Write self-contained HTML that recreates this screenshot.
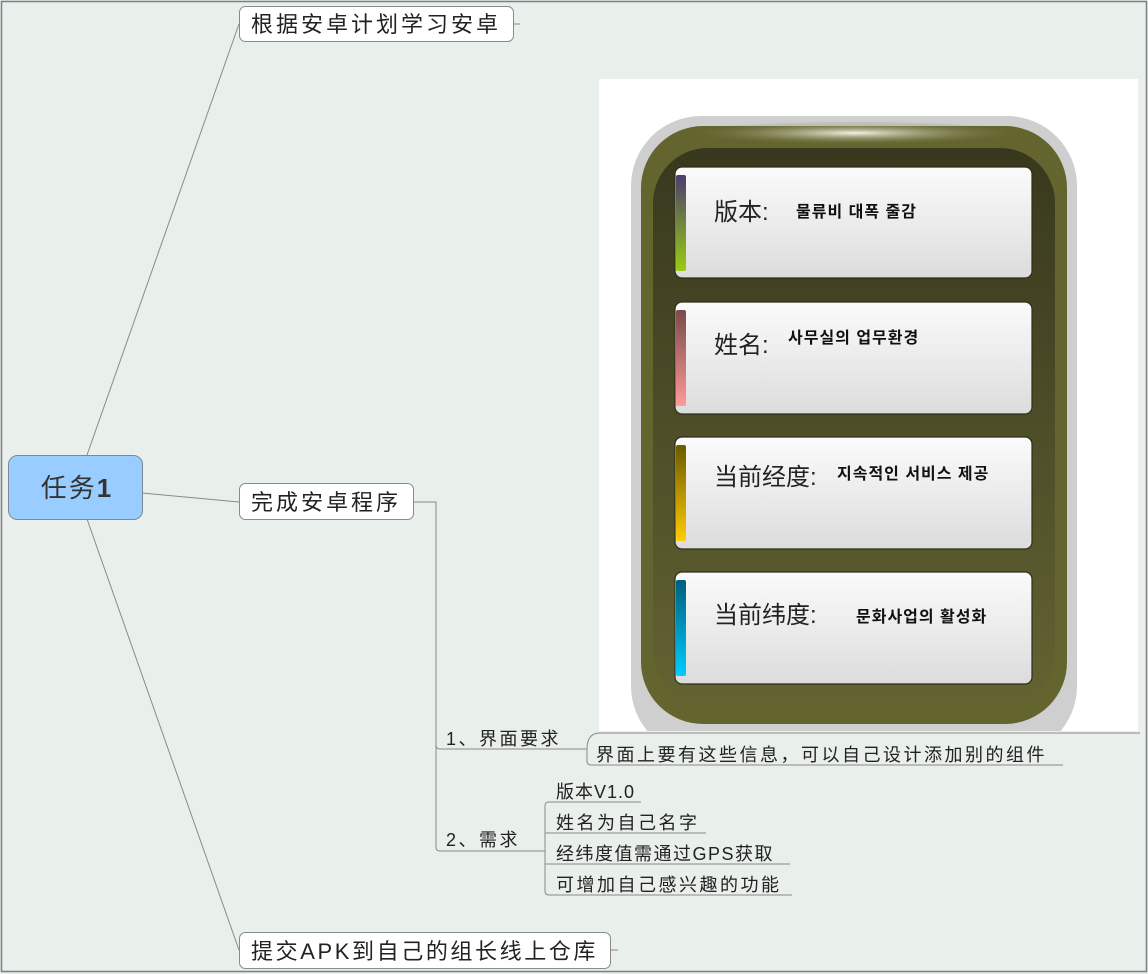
<!DOCTYPE html>
<html><head><meta charset="utf-8"><style>
html,body{margin:0;padding:0;background:#e9efeb;}
svg{display:block;}
text{font-family:"Liberation Sans","Noto Sans CJK SC",sans-serif;}
.k{font-family:"Liberation Sans","Noto Sans CJK KR",sans-serif;font-weight:bold;}
</style></head><body>
<svg width="1148" height="974" viewBox="0 0 1148 974" xmlns="http://www.w3.org/2000/svg">
<defs>
<linearGradient id="card" x1="0" y1="0" x2="0" y2="1"><stop offset="0" stop-color="#fbfbfb"/><stop offset="1" stop-color="#dcdcdc"/></linearGradient>
<linearGradient id="b1" x1="0" y1="0" x2="0" y2="1"><stop offset="0" stop-color="#4a3d6e"/><stop offset="1" stop-color="#99cc11"/></linearGradient>
<linearGradient id="b2" x1="0" y1="0" x2="0" y2="1"><stop offset="0" stop-color="#7a4a4a"/><stop offset="1" stop-color="#ff9999"/></linearGradient>
<linearGradient id="b3" x1="0" y1="0" x2="0" y2="1"><stop offset="0" stop-color="#6b5a00"/><stop offset="1" stop-color="#ffcc00"/></linearGradient>
<linearGradient id="b4" x1="0" y1="0" x2="0" y2="1"><stop offset="0" stop-color="#005e7a"/><stop offset="1" stop-color="#00ccff"/></linearGradient>
<linearGradient id="ol" x1="0" y1="0" x2="0" y2="1"><stop offset="0" stop-color="#38381e"/><stop offset="1" stop-color="#636332"/></linearGradient>
<radialGradient id="gl" cx="0.5" cy="0.5" r="0.5"><stop offset="0" stop-color="#f4f4e8"/><stop offset="1" stop-color="#6b6b35" stop-opacity="0"/></radialGradient>
</defs>
<rect x="1.5" y="1.5" width="1145" height="970" fill="#e9efeb" stroke="#7f7f7f" stroke-width="1.5"/>
<!-- image -->
<rect x="599" y="79" width="539" height="652" fill="#fff"/>
<rect x="631" y="116" width="446" height="640" rx="70" fill="#cfcfcf"/>
<rect x="641" y="126" width="426" height="598" rx="62" fill="#64642f"/>
<rect x="653" y="148" width="402" height="560" rx="55" fill="url(#ol)"/>
<rect x="599" y="731" width="545" height="35" fill="#e9efeb"/>
<ellipse cx="855" cy="133" rx="170" ry="12" fill="url(#gl)"/>
<g stroke="#2e2e1a" stroke-width="1.2">
<rect x="675" y="167" width="357" height="111" rx="7" fill="url(#card)"/>
<rect x="675" y="302" width="357" height="112" rx="7" fill="url(#card)"/>
<rect x="675" y="437" width="357" height="112" rx="7" fill="url(#card)"/>
<rect x="675" y="572" width="357" height="112" rx="7" fill="url(#card)"/>
</g>
<rect x="676" y="175" width="10" height="96" rx="2" fill="url(#b1)"/>
<rect x="676" y="310" width="10" height="96" rx="2" fill="url(#b2)"/>
<rect x="676" y="445" width="10" height="96" rx="2" fill="url(#b3)"/>
<rect x="676" y="580" width="10" height="96" rx="2" fill="url(#b4)"/>
<g font-size="24" fill="#222">
<text x="714" y="220">版本:</text>
<text x="714" y="353">姓名:</text>
<text x="714" y="485">当前经度:</text>
<text x="714" y="623">当前纬度:</text>
</g>
<g font-size="16" fill="#111" letter-spacing="1">
<text class="k" x="796" y="217">물류비 대폭 줄감</text>
<text class="k" x="788" y="343">사무실의 업무환경</text>
<text class="k" x="837" y="479">지속적인 서비스 제공</text>
<text class="k" x="856" y="622">문화사업의 활성화</text>
</g>
<!-- connectors -->
<g stroke="#8a8a8a" stroke-width="1" fill="none">
<line x1="87" y1="455" x2="239" y2="24"/>
<line x1="142" y1="493" x2="239" y2="502"/>
<line x1="87" y1="519" x2="239" y2="950"/>
<path d="M413 502 H436 V745 Q436 749 440 749 H587"/>
<path d="M436 745 V847 Q436 851 440 851 H545"/>
<path d="M587 749 V761 Q587 765 591 765 H1063"/>
<path d="M587 749 Q587 733 600 733 H1140"/>
<path d="M545 851 V806 Q545 802 549 802 H641"/>
<path d="M545 851 V891 Q545 895 549 895 H792"/>
<path d="M545 833 H706"/>
<path d="M545 864 H790"/>
<path d="M513 24 H520"/>
<path d="M610 950 H618"/>
</g>
<!-- root -->
<rect x="8.5" y="455.5" width="134" height="64" rx="9" fill="#99ccff" stroke="#7a8a99"/>
<text x="77" y="497" font-size="26" text-anchor="middle" fill="#333" letter-spacing="2">任务<tspan font-weight="bold">1</tspan></text>
<!-- topics -->
<rect x="239.5" y="6.5" width="274" height="35" rx="6" fill="#fff" stroke="#8a8a8a"/>
<text x="251" y="32" font-size="22" fill="#222" letter-spacing="3">根据安卓计划学习安卓</text>
<rect x="239.5" y="483.5" width="174" height="36" rx="6" fill="#fff" stroke="#8a8a8a"/>
<text x="251" y="510" font-size="22" fill="#222" letter-spacing="3">完成安卓程序</text>
<rect x="239.5" y="932.5" width="371" height="36" rx="6" fill="#fff" stroke="#8a8a8a"/>
<text x="251" y="959" font-size="22" fill="#222" letter-spacing="2.6">提交APK到自己的组长线上仓库</text>
<!-- subtopics -->
<g font-size="18" fill="#222" letter-spacing="2.5">
<text x="446" y="745">1、界面要求</text>
<text x="446" y="846">2、需求</text>
<text x="596" y="761">界面上要有这些信息，可以自己设计添加别的组件</text>
<text x="556" y="798" letter-spacing="1">版本V1.0</text>
<text x="556" y="829">姓名为自己名字</text>
<text x="556" y="860" letter-spacing="1.5">经纬度值需通过GPS获取</text>
<text x="556" y="891">可增加自己感兴趣的功能</text>
</g>
</svg>
</body></html>
